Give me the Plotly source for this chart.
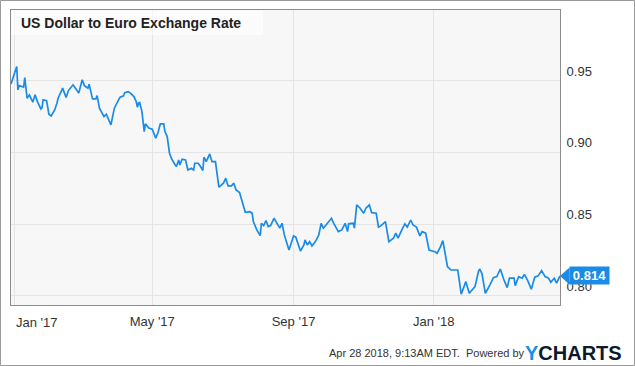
import plotly.graph_objects as go

dates = [
"2016-12-29","2017-01-03","2017-01-04","2017-01-05","2017-01-09","2017-01-10","2017-01-12","2017-01-14",
"2017-01-17","2017-01-19","2017-01-21","2017-01-24","2017-01-25","2017-01-26","2017-01-29","2017-01-31",
"2017-02-02","2017-02-05","2017-02-07","2017-02-08","2017-02-12","2017-02-15","2017-02-17","2017-02-21",
"2017-02-24","2017-02-26","2017-03-01","2017-03-03","2017-03-06","2017-03-07","2017-03-10","2017-03-13",
"2017-03-14","2017-03-16","2017-03-20","2017-03-22","2017-03-26","2017-03-29","2017-04-02","2017-04-03",
"2017-04-06","2017-04-07","2017-04-10","2017-04-12","2017-04-15","2017-04-17","2017-04-18","2017-04-19",
"2017-04-20","2017-04-22","2017-04-24","2017-04-25","2017-04-28","2017-05-01","2017-05-04","2017-05-06",
"2017-05-08","2017-05-11","2017-05-12","2017-05-14","2017-05-16","2017-05-18","2017-05-21","2017-05-22",
"2017-05-24","2017-05-25","2017-05-27","2017-05-30","2017-05-31","2017-06-01","2017-06-04","2017-06-06",
"2017-06-07","2017-06-10","2017-06-12","2017-06-14","2017-06-15","2017-06-17","2017-06-20","2017-06-22",
"2017-06-25","2017-06-28","2017-07-02","2017-07-04","2017-07-06","2017-07-09","2017-07-11","2017-07-13",
"2017-07-16","2017-07-18","2017-07-19","2017-07-21","2017-07-25","2017-07-27","2017-07-28","2017-07-31",
"2017-08-03","2017-08-04","2017-08-06","2017-08-08","2017-08-10","2017-08-12","2017-08-15","2017-08-18",
"2017-08-20","2017-08-22","2017-08-24","2017-08-28","2017-09-01","2017-09-03","2017-09-05","2017-09-07",
"2017-09-10","2017-09-11","2017-09-13","2017-09-15","2017-09-17","2017-09-20","2017-09-23","2017-09-25",
"2017-09-27","2017-10-01","2017-10-04","2017-10-06","2017-10-10","2017-10-13","2017-10-16","2017-10-18",
"2017-10-19","2017-10-23","2017-10-24","2017-10-26","2017-10-29","2017-11-01","2017-11-03","2017-11-06",
"2017-11-08","2017-11-12","2017-11-14","2017-11-16","2017-11-20","2017-11-23","2017-11-27","2017-11-29",
"2017-12-01","2017-12-05","2017-12-07","2017-12-09","2017-12-12","2017-12-14","2017-12-17","2017-12-20",
"2017-12-22","2017-12-25","2017-12-28","2018-01-02","2018-01-04","2018-01-07","2018-01-09","2018-01-12",
"2018-01-13","2018-01-16","2018-01-22","2018-01-25","2018-01-29","2018-02-01","2018-02-06","2018-02-09",
"2018-02-10","2018-02-12","2018-02-15","2018-02-19","2018-02-22","2018-02-25","2018-02-28","2018-03-03",
"2018-03-06","2018-03-08","2018-03-12","2018-03-13","2018-03-16","2018-03-19","2018-03-21","2018-03-24",
"2018-03-27","2018-03-30","2018-04-02","2018-04-05","2018-04-08","2018-04-11","2018-04-13","2018-04-16",
"2018-04-18","2018-04-21"]

rates = [
0.9478,0.9601,0.9438,0.9468,0.9457,0.9524,0.9380,0.9403,
0.9352,0.9403,0.9356,0.9305,0.9314,0.9368,0.9363,0.9268,
0.9256,0.9298,0.9345,0.9380,0.9450,0.9384,0.9433,0.9473,
0.9438,0.9415,0.9508,0.9466,0.9450,0.9478,0.9375,0.9375,
0.9398,0.9310,0.9251,0.9268,0.9194,0.9310,0.9373,0.9387,
0.9396,0.9419,0.9426,0.9415,0.9391,0.9356,0.9317,0.9345,
0.9349,0.9286,0.9147,0.9201,0.9171,0.9164,0.9101,0.9140,
0.9201,0.9201,0.9147,0.9112,0.8996,0.8954,0.8914,0.8903,
0.8949,0.8914,0.8954,0.8949,0.8914,0.8879,0.8891,0.8879,
0.8926,0.8926,0.8903,0.8875,0.8968,0.8937,0.8991,0.8937,
0.8937,0.8759,0.8787,0.8822,0.8768,0.8768,0.8787,0.8740,
0.8721,0.8658,0.8635,0.8584,0.8588,0.8577,0.8519,0.8461,
0.8421,0.8507,0.8491,0.8526,0.8484,0.8491,0.8542,0.8496,
0.8473,0.8507,0.8426,0.8321,0.8419,0.8410,0.8368,0.8314,
0.8356,0.8391,0.8356,0.8379,0.8349,0.8379,0.8426,0.8507,
0.8473,0.8514,0.8542,0.8507,0.8449,0.8461,0.8507,0.8449,
0.8503,0.8507,0.8473,0.8635,0.8612,0.8577,0.8612,0.8635,
0.8581,0.8577,0.8480,0.8489,0.8519,0.8379,0.8403,0.8438,
0.8403,0.8473,0.8503,0.8480,0.8530,0.8496,0.8480,0.8419,
0.8449,0.8438,0.8321,0.8309,0.8298,0.8344,0.8386,0.8251,
0.8205,0.8181,0.8181,0.8012,0.8100,0.8019,0.8065,0.8170,
0.8188,0.8158,0.8019,0.8077,0.8128,0.8135,0.8188,0.8117,
0.8058,0.8124,0.8124,0.8072,0.8135,0.8124,0.8151,0.8105,
0.8047,0.8131,0.8140,0.8177,0.8135,0.8124,0.8096,0.8124,
0.8089,0.8140]

x_tick_vals = ["2017-01-01", "2017-05-01", "2017-09-01", "2018-01-01"]
x_tick_text = ["Jan '17", "May '17", "Sep '17", "Jan '18"]
y_tick_vals = [0.80, 0.85, 0.90, 0.95]
y_tick_text = ["0.80", "0.85", "0.90", "0.95"]
title_text = "US Dollar to Euro Exchange Rate"
last_label = "0.814"
last_value = 0.814
footer_text = "Apr 28 2018, 9:13AM EDT.  Powered by"

BLUE = "#1a8be6"
FONT = "Liberation Sans, Arial, sans-serif"

fig = go.Figure()
fig.add_trace(go.Scatter(x=dates, y=rates, mode="lines",
                         line=dict(color=BLUE, width=1.7), hoverinfo="skip"))

fig.update_layout(
    width=635, height=366,
    margin=dict(l=11, r=75, t=10, b=61, autoexpand=False),
    paper_bgcolor="white", plot_bgcolor="#f7f7f7",
    showlegend=False,
    font=dict(family=FONT, size=13, color="#333333"),
    xaxis=dict(type="date", range=["2016-12-29", "2018-04-21"],
               tickvals=x_tick_vals, ticktext=[""] + x_tick_text[1:],
               showgrid=True, gridcolor="#e4e4e4", gridwidth=1,
               showline=True, linecolor="#8c8c8c", linewidth=1, mirror=True,
               ticks="", zeroline=False, ticklabelstandoff=4,
               tickfont=dict(size=13, color="#333")),
    yaxis=dict(range=[0.7937, 0.9995], side="right",
               tickvals=y_tick_vals, ticktext=y_tick_text,
               showgrid=True, gridcolor="#e4e4e4", gridwidth=1,
               showline=True, linecolor="#8c8c8c", linewidth=1, mirror=True,
               ticks="", zeroline=False, ticklabelshift=-10, ticklabelstandoff=3,
               tickfont=dict(size=13, color="#333")),
)

shapes = [
    # outer figure border
    dict(type="rect", xref="paper", yref="paper", xsizemode="pixel", ysizemode="pixel",
         xanchor=0, yanchor=0, x0=-10.5, x1=623.5, y0=-60.5, y1=304.5,
         line=dict(color="#9a9a9a", width=1), fillcolor="rgba(0,0,0,0)", layer="above"),
    # title background
    dict(type="rect", xref="paper", yref="paper", xsizemode="pixel", ysizemode="pixel",
         xanchor=0, yanchor=1, x0=0.5, x1=252, y0=-0.5, y1=-25,
         line=dict(width=0), fillcolor="rgba(255,255,255,0.6)", layer="above"),
    # arrow of last value label
    dict(type="path", xref="paper", yref="y", xsizemode="pixel", ysizemode="pixel",
         xanchor=1, yanchor=last_value, path="M 0,0 L 9.5,8.5 L 9.5,-8.5 Z",
         line=dict(width=0), fillcolor=BLUE, layer="above"),
]
fig.update_layout(shapes=shapes)

annotations = [
    dict(text="<b>" + title_text + "</b>", xref="paper", yref="paper", x=0, y=1,
         xanchor="left", yanchor="middle", xshift=8, yshift=-13, showarrow=False,
         font=dict(family=FONT, size=14, color="#222")),
    dict(text=x_tick_text[0], xref="x", yref="paper", x=x_tick_vals[0], y=0,
         xanchor="left", yanchor="middle", yshift=-17, showarrow=False,
         font=dict(family=FONT, size=13, color="#333")),
    dict(text="<b>" + last_label + "</b>", xref="paper", yref="y", x=1, y=last_value,
         xanchor="left", yanchor="middle", xshift=9, showarrow=False,
         width=39, height=17, bgcolor=BLUE, borderpad=0, align="center",
         font=dict(family=FONT, size=13, color="white")),
    dict(text=footer_text, xref="paper", yref="paper", x=1, y=0,
         xanchor="right", yanchor="middle", xshift=-33, yshift=-48, showarrow=False,
         font=dict(family=FONT, size=11, color="#333")),
    dict(text="<b><span style='color:#1a8fe3'>Y</span>CHARTS</b>", xref="paper", yref="paper",
         x=1, y=0, xanchor="left", yanchor="middle", xshift=-37, yshift=-48, showarrow=False,
         font=dict(family=FONT, size=20, color="#0d1a2b")),
]
fig.update_layout(annotations=annotations)

fig.write_html("out.html", config={"displayModeBar": False},
               post_script="document.body.style.margin='0';")
